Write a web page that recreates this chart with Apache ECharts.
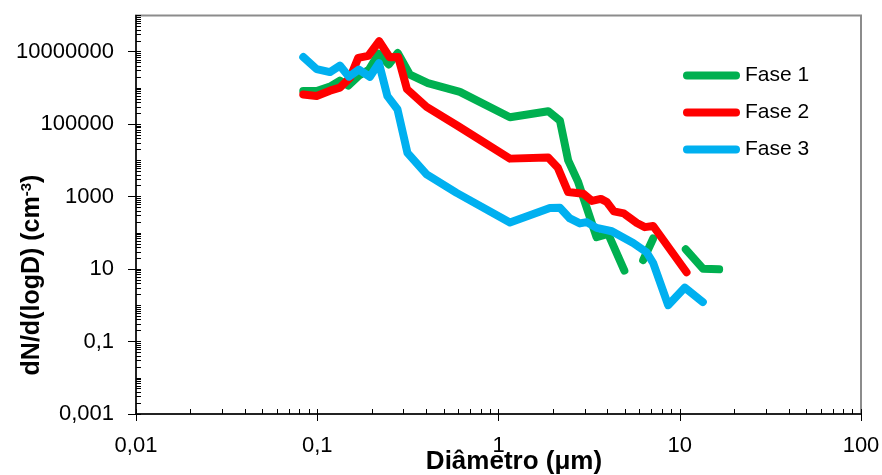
<!DOCTYPE html>
<html><head><meta charset="utf-8">
<script src="https://cdn.jsdelivr.net/npm/echarts@6/dist/echarts.min.js"></script>
<style>html,body{margin:0;padding:0;background:#fff}#c{width:882px;height:475px}</style>
</head><body><div id="c"></div>
<script>
// ---- data ----
const seriesNames = ['Fase 1', 'Fase 2', 'Fase 3'];
const fase1X = [0.0837,0.0992,0.1175,0.1334,0.1483,0.1698,0.1929,0.2182,0.248,0.278,0.3246,0.4079,0.6124,1.156,1.88,2.182,2.423,2.741,3.476,4.029,4.948,null,6.283,7.135,null,10.8,13.46,16.5];
const fase1Y = [8.26e5,8.26e5,1.086e6,1.59e6,1.158e6,2.19e6,3.21e6,8.78e6,4.47e6,9.18e6,2.33e6,1.36e6,7.8e5,1.557e5,2.28e5,1.262e5,1.006e4,2642,76,93,9.12,null,17.6,70,null,35.2,10.16,9.84];
const fase2X = [0.0837,0.0992,0.1175,0.1334,0.1515,0.1683,0.1911,0.2196,0.2508,0.2797,0.3126,0.4012,0.5971,1.156,1.88,2.126,2.423,2.933,3.275,3.671,3.962,4.33,4.917,5.8,6.42,7.135,10.9];
const fase2Y = [6.61e5,6.01e5,8.42e5,1.02e6,1.89e6,6.76e6,7.67e6,1.945e7,7.02e6,7.11e6,9.27e5,3.0e5,8.89e4,1.12e4,1.2e4,6240,1336,1207,763,867,707,391,344,188,144,155,8.18];
const fase3X = [0.0837,0.0992,0.1175,0.1334,0.1496,0.1698,0.1953,0.2189,0.2439,0.2769,0.3145,0.4012,0.5873,1.156,1.921,2.182,2.476,2.812,3.062,3.476,4.222,5.534,6.561,7.135,8.63,10.67,13.41];
const fase3Y = [7.11e6,3.31e6,2.74e6,4.14e6,2.05e6,3.21e6,2.03e6,4.85e6,5.93e5,2.59e5,1.623e4,4126,1270,194,488,495,250,182,198,137,111,52.6,29.2,14.7,1.01,3.09,1.23];
const xTickLabels = ['0,01','0,1','1','10','100'];
const yTickLabels = ['0,001','0,1','10','1000','100000','10000000'];
const xTitle = 'Diâmetro (μm)';
const yTitle = 'dN/d(logD) (cm{sup|-3})';
const colors = ['#00B050', '#FF0000', '#00B0F0'];

const FONT = '"Liberation Sans", Arial, sans-serif';
function pairs(xs, ys) { return xs.map((x, i) => [x, ys[i]]); }
const xExp = v => Math.round(Math.log10(v));
const xFmt = v => { const e = xExp(v); return xTickLabels[e + 2] !== undefined ? xTickLabels[e + 2] : ''; };
const yFmt = v => { const e = xExp(v); return ((e + 3) % 2 === 0 && yTickLabels[(e + 3) / 2] !== undefined) ? yTickLabels[(e + 3) / 2] : ''; };

const seriesData = [pairs(fase1X, fase1Y), pairs(fase2X, fase2Y), pairs(fase3X, fase3Y)];

const chart = echarts.init(document.getElementById('c'), null, {renderer: 'canvas'});
chart.setOption({
  animation: false,
  textStyle: {fontFamily: FONT},
  grid: {left: 136, right: 21, top: 15.5, bottom: 61, show: true, borderColor: '#8c8c8c', borderWidth: 2, containLabel: false, outerBoundsMode: 'none'},
  legend: {
    orient: 'vertical', left: 678, top: 60, itemWidth: 57, itemHeight: 8, itemGap: 16,
    icon: 'path://M4,0L53,0A4,4,0,0,1,53,8L4,8A4,4,0,0,1,4,0Z',
    itemStyle: {borderWidth: 0},
    textStyle: {fontSize: 21, color: '#000', fontFamily: FONT},
    data: seriesNames
  },
  graphic: [
    {
      type: 'text', x: 514, y: 462, z: 10,
      style: {text: xTitle, fill: '#000', fontSize: 26, fontWeight: 'bold', fontFamily: FONT,
        align: 'center', verticalAlign: 'middle', textAlign: 'center', textVerticalAlign: 'middle'}
    },
    {
      type: 'text', x: 32, y: 275, rotation: Math.PI / 2, z: 10,
      style: {text: yTitle, fill: '#000', fontSize: 25, fontWeight: 'bold', fontFamily: FONT,
        align: 'center', verticalAlign: 'middle', textAlign: 'center', textVerticalAlign: 'middle',
        rich: {sup: {fontSize: 15, fontWeight: 'bold', fill: '#000', fontFamily: FONT, verticalAlign: 'top'}}}
    }
  ],
  xAxis: [
    {
      type: 'log', logBase: 10, min: 0.01, max: 100, interval: 1, position: 'bottom',
      axisLine: {show: true, onZero: false, lineStyle: {color: '#000', width: 1.5}},
      axisTick: {show: true, inside: false, length: 7, lineStyle: {color: '#000', width: 1}},
      minorTick: {show: false},
      splitLine: {show: false},
      axisLabel: {formatter: xFmt, fontSize: 22, color: '#000', margin: 21, fontFamily: FONT}
    },
    {
      type: 'log', logBase: 10, min: 0.01, max: 100, interval: 1, position: 'bottom', gridIndex: 0,
      axisLine: {show: false, onZero: false},
      axisTick: {show: true, inside: true, length: 5, lineStyle: {color: '#000', width: 1}},
      minorTick: {show: true, splitNumber: 9, length: 5, lineStyle: {color: '#000', width: 1}},
      splitLine: {show: false},
      axisLabel: {show: false}
    }
  ],
  yAxis: [
    {
      type: 'log', logBase: 10, min: 0.001, max: 1e8, interval: 2, position: 'left',
      axisLine: {show: true, onZero: false, lineStyle: {color: '#000', width: 1.5}},
      axisTick: {show: true, inside: false, length: 8, lineStyle: {color: '#000', width: 1}},
      minorTick: {show: false},
      splitLine: {show: false},
      axisLabel: {formatter: yFmt, fontSize: 22, color: '#000', margin: 22, fontFamily: FONT, showMaxLabel: false}
    },
    {
      type: 'log', logBase: 10, min: 0.001, max: 1e8, interval: 1, position: 'left', gridIndex: 0,
      axisLine: {show: false, onZero: false},
      axisTick: {show: true, inside: true, length: 5, lineStyle: {color: '#000', width: 1}},
      minorTick: {show: true, splitNumber: 9, length: 5, lineStyle: {color: '#000', width: 1}},
      splitLine: {show: false},
      axisLabel: {show: false}
    }
  ],
  series: seriesNames.map((name, i) => ({
    name: name, type: 'line', xAxisIndex: 0, yAxisIndex: 0,
    data: seriesData[i], showSymbol: false, symbol: 'none', connectNulls: false,
    color: colors[i], itemStyle: {color: colors[i]},
    lineStyle: {color: colors[i], width: 8, cap: 'round', join: 'round'},
    z: 2 + i
  }))
});
</script></body></html>
